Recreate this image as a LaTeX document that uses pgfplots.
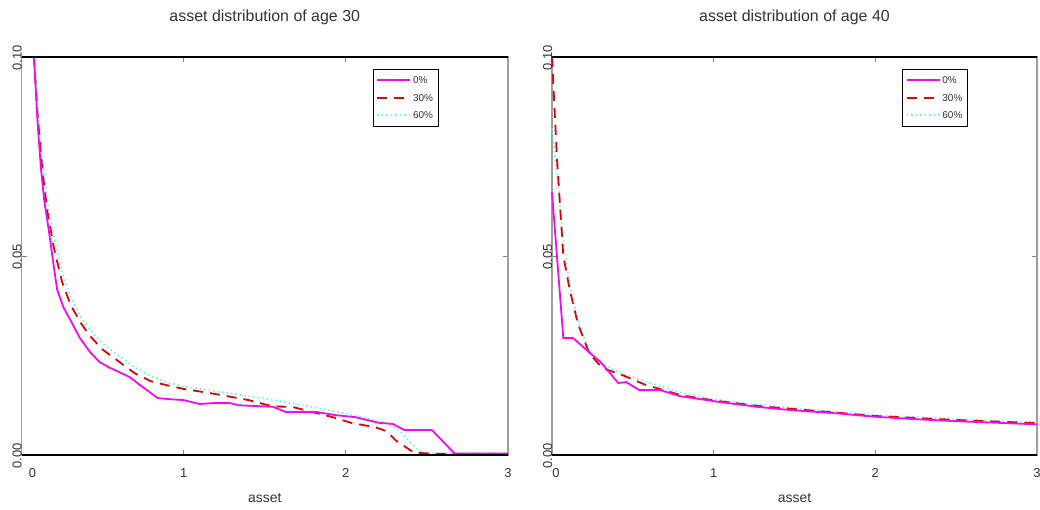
\documentclass[border=0pt]{standalone}
\usepackage{pgfplots}
\pgfplotsset{compat=1.18}
\usepackage{fontspec}
\setmainfont{Liberation Sans}
\definecolor{mymag}{rgb}{0.93,0.05,0.93}
\definecolor{myred}{rgb}{0.85,0.02,0.02}
\definecolor{mycyan}{rgb}{0.45,0.93,0.93}
\definecolor{txt}{rgb}{0.2,0.2,0.2}
\pgfplotsset{
  myax/.style={
    scale only axis, height=398bp,
    xmin=0, xmax=3, ymin=0, ymax=0.1,
    xtick={0,1,2,3}, ytick={0,0.05,0.1},
    yticklabels={0.00,0.05,0.10},
    tick align=inside, major tick length=5bp,
    tick style={gray, line width=0.8bp},
    axis line style={gray!75, line width=1.2bp},
    clip=false,
    ticklabel style={font=\fontsize{13}{15}\selectfont, text=txt},
    xticklabel style={anchor=base, yshift=-22bp},
    yticklabel style={rotate=90, anchor=base, xshift=-1bp},
    title style={font=\fontsize{16}{18}\selectfont, text=txt, at={(0.5,1)}, anchor=base, yshift=30bp},
    xlabel style={font=\fontsize{14}{16}\selectfont, text=txt, at={(0.5,0)}, anchor=base, yshift=-47bp},
    xlabel={asset},
    reverse legend,
    legend style={at={(0.7225,0.97)}, anchor=north west, draw=black,
      font=\fontsize{10}{12}\selectfont, text=txt, inner xsep=3bp, inner ysep=5bp,
      row sep=5bp, nodes={inner sep=2bp, text height=7.5bp, text depth=1bp}},
    legend cell align=left,
    legend image code/.code={\draw[##1] (0bp,0bp) -- (33bp,0bp);},
  },
  mag/.style={mymag, line width=1.8bp, solid},
  rd/.style={myred, line width=1.8bp, dash pattern=on 10bp off 7bp},
  cy/.style={mycyan, line width=1.8bp, dash pattern=on 1.5bp off 3bp},
}
\begin{document}
\begin{tikzpicture}
\path[use as bounding box] (-21.5bp,-55bp) rectangle (1018.5bp,455bp);
\begin{axis}[myax, at={(0bp,0bp)}, anchor=south west, width=486.5bp,
  title={asset distribution of age 30},
  xticklabels={\hspace{22bp}0,1,2,3}]
\addplot[cy] coordinates {
(0.077,0.100) (0.10,0.087) (0.13,0.074) (0.16,0.064) (0.20,0.055) (0.25,0.046)
(0.30,0.040) (0.36,0.035) (0.42,0.0315) (0.50,0.028) (0.60,0.025) (0.70,0.022)
(0.80,0.0198) (0.90,0.0182) (1.00,0.0172) (1.20,0.0160) (1.40,0.0148) (1.60,0.0135)
(1.80,0.0120) (1.95,0.0108) (2.10,0.0095) (2.25,0.0080) (2.33,0.0062) (2.40,0.0030)
(2.47,0.0005) (3.0,0.0003)};
\addlegendentry{60\%}
\addplot[rd] coordinates {
(0.077,0.100) (0.10,0.085) (0.13,0.071) (0.16,0.061) (0.20,0.052) (0.25,0.0435)
(0.30,0.038) (0.36,0.0335) (0.42,0.030) (0.50,0.0265) (0.60,0.0235) (0.70,0.0205)
(0.80,0.0185) (0.90,0.0175) (1.00,0.0166) (1.20,0.0153) (1.40,0.0138) (1.55,0.0122)
(1.67,0.0121) (1.79,0.0108) (1.92,0.0095) (2.04,0.0080) (2.18,0.0070) (2.25,0.0060)
(2.31,0.0036) (2.42,0.0006) (2.55,0.0003) (3.0,0.0003)};
\addlegendentry{30\%}
\addplot[mag] coordinates {
(0.077,0.100) (0.10,0.083) (0.12,0.072) (0.14,0.064) (0.17,0.056) (0.19,0.050)
(0.22,0.0415) (0.26,0.037) (0.30,0.034) (0.36,0.0294) (0.42,0.026) (0.48,0.0234)
(0.54,0.022) (0.60,0.0209) (0.67,0.0195) (0.73,0.0176) (0.79,0.0158) (0.84,0.0143)
(0.92,0.0140) (1.00,0.0138) (1.10,0.0128) (1.20,0.0131) (1.28,0.0131) (1.34,0.0125)
(1.55,0.0121) (1.63,0.0108) (1.82,0.0108) (1.94,0.0100) (2.06,0.0095) (2.20,0.0081)
(2.29,0.0078) (2.36,0.0063) (2.53,0.0063) (2.67,0.0004) (3.00,0.0004)};
\addlegendentry{0\%}
\draw[black, line width=2.6bp] (rel axis cs:0,1) -- (rel axis cs:1,1);
\draw[black, line width=2.6bp] (rel axis cs:0,0) -- (rel axis cs:1,0);
\end{axis}
\begin{axis}[myax, at={(530.5bp,0bp)}, anchor=south west, width=485bp,
  title={asset distribution of age 40},
  xticklabels={\hspace{8bp}0,1,2,3}]
\addplot[cy] coordinates {
(0.0,0.082) (0.04,0.0666) (0.07,0.054) (0.11,0.043) (0.17,0.032) (0.26,0.024)
(0.42,0.0206) (0.6,0.0182) (0.8,0.0156) (1.0,0.0140) (1.3,0.0125) (1.6,0.0114)
(2.0,0.0100) (2.5,0.0090) (3.0,0.0082)};
\addlegendentry{60\%}
\addplot[rd] coordinates {
(0.0,0.100) (0.03,0.075) (0.07,0.050) (0.11,0.0415) (0.16,0.033) (0.23,0.0256)
(0.31,0.0219) (0.44,0.0200) (0.58,0.0176) (0.80,0.0150) (1.0,0.0137) (1.3,0.0122)
(1.6,0.0112) (2.0,0.0098) (2.5,0.0088) (3.0,0.0080)};
\addlegendentry{30\%}
\addplot[mag] coordinates {
(0.0,0.066) (0.07,0.0294) (0.13,0.0294) (0.25,0.0251) (0.30,0.0234) (0.41,0.0181)
(0.46,0.0183) (0.54,0.0163) (0.67,0.0163) (0.79,0.0148) (1.04,0.0133) (1.27,0.0121)
(1.47,0.0113) (1.75,0.0105) (2.0,0.0096) (2.25,0.0090) (2.5,0.0085) (2.75,0.0081)
(3.0,0.0077)};
\addlegendentry{0\%}
\draw[black, line width=2.6bp] (rel axis cs:0,1) -- (rel axis cs:1,1);
\draw[black, line width=2.6bp] (rel axis cs:0,0) -- (rel axis cs:1,0);
\end{axis}
\end{tikzpicture}
\end{document}
